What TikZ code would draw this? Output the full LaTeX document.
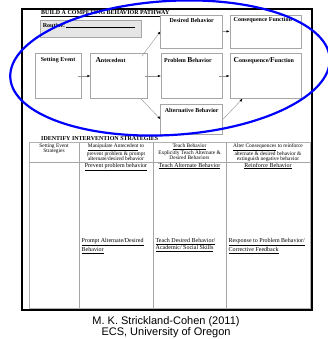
\documentclass[tikz,border=0pt]{standalone}
\usepackage{fontspec}
\setmainfont{Liberation Serif}
\newfontfamily\captionfont{Liberation Sans}
\usetikzlibrary{positioning,calc,arrows.meta}

\tikzset{
	pathbox/.style={draw=gray!70, fill=white, line width=0.6pt, inner sep=0pt},
	boxlabel/.style={font=\fontsize{6}{7}\selectfont\bfseries, inner sep=0pt},
	pathline/.style={draw=gray!85, line width=0.4pt,
		-{Latex[length=3pt,width=2.4pt,color=black]}},
	headtext/.style={font=\fontsize{5.4}{5.2}\selectfont, align=center, inner sep=0pt, anchor=north},
	celltext/.style={font=\fontsize{6}{7}\selectfont, align=left, inner sep=0pt}
}

\begin{document}
\begin{tikzpicture}[x=1pt,y=-1pt]

\useasboundingbox (0,0) rectangle (327,339);

% Frame
\draw[line width=1.2pt] (22,9) rectangle (312,310);

\node[anchor=west, inner sep=0pt, font=\fontsize{6}{7}\selectfont\bfseries] (title_path) at (41,14)
	{\underline{BUILD A COMPETING BEHAVIOR PATHWAY}};

\node[draw=gray!70, fill=gray!20, line width=0.6pt,
	minimum width=101pt,
	minimum height=17pt,
	label={[boxlabel, below right=3pt and 3pt]north west:Routine:\,\rule{69pt}{0.4pt}}
] (routine) at (90.5,28.5) {};

%%%%%%%%%%%%%%%%%%%
% Pathway boxes

\node[pathbox,
	minimum width=46pt,
	minimum height=45pt,
	label={[boxlabel, below=4pt]north:Setting Event}] (setting) at (58,76) {};

\node[pathbox,
	right=9pt of setting,
	minimum width=57pt,
	minimum height=45pt,
	label={[boxlabel, below right=4pt and 5pt]north west:{\fontsize{7.5}{8}\selectfont A}ntecedent}] (ante) {};

\node[pathbox,
	right=13pt of ante,
	minimum width=61pt,
	minimum height=45pt,
	label={[boxlabel, below right=4pt and 3pt]north west:Problem {\fontsize{7.5}{8}\selectfont B}ehavior}] (problem) {};

\node[pathbox,
	right=7pt of problem,
	minimum width=71pt,
	minimum height=45pt,
	label={[boxlabel, below right=4pt and 4pt]north west:{\fontsize{7.5}{8}\selectfont C}onsequence/{\fontsize{7.5}{8}\selectfont F}unction}] (consfun) {};

\node[pathbox,
	above=5pt of problem,
	minimum width=62pt,
	minimum height=33pt,
	label={[boxlabel, below=4pt]north:Desired Behavior}] (desired) {};

\node[pathbox,
	above=5pt of consfun,
	minimum width=71pt,
	minimum height=33pt,
	label={[boxlabel, below right=3pt and 4pt]north west:Consequence Function}] (consdes) {};

\node[pathbox,
	below=5pt of problem,
	minimum width=62pt,
	minimum height=30pt,
	label={[boxlabel, below=4pt]north:Alternative Behavior}] (alt) {};

\draw[pathline, shorten <=-3pt] (setting.east) -- (ante.west);
\draw[pathline] ($(ante.north east)+(-6,3)$) -- (desired.west);
\draw[pathline, shorten <=-3pt] (ante.east) -- (problem.west);
\draw[pathline] ($(ante.south east)+(-7,0)$) -- (alt.west);
\draw[pathline, shorten <=-4pt] (problem.east) -- (consfun.west);
\draw[pathline, shorten <=-1pt] (desired.east) -- (consdes.west);
\draw[pathline] (alt.east) -- ($(consfun.south west)+(13,0)$);

%%%%%%%%%%%%%%%%%%%
% Intervention table

\node[anchor=west, inner sep=0pt, font=\fontsize{6}{7}\selectfont\bfseries] (title_table) at (41,140)
	{\underline{IDENTIFY INTERVENTION STRATEGIES}};

\draw[gray!60, line width=0.9pt] (29,142) rectangle (310,308);
\draw[gray!70, line width=0.5pt] (29,162) -- (310,162);
\foreach \x in {79,153,226}
	\draw[gray!70, line width=0.5pt] (\x,142) -- (\x,308);

\node[headtext] (head_setting) at (54,143.5) {Setting Event\\Strategies};
\node[headtext] (head_ante) at (116,143.5)
	{\underline{Manipulate Antecedent} to\\prevent problem \& prompt\\alternate/desired behavior};
\node[headtext] (head_teach) at (189.5,143.5)
	{\underline{Teach Behavior}\\Explicitly Teach Alternate \&\\Desired Behaviors};
\node[headtext] (head_alter) at (268,143.5)
	{\underline{Alter Consequences} to reinforce\\alternate \& desired behavior \&\\extinguish negative behavior};

\node[celltext, anchor=north] (prevent) at (116,162.8) {\underline{Prevent problem behavior}};
\node[celltext, anchor=north] (teach_alt) at (189.5,162.8) {\underline{Teach Alternate Behavior}};
\node[celltext, anchor=north] (reinforce) at (268,162.8) {\underline{Reinforce Behavior}};

\node[celltext, anchor=north west] (prompt) at (81.5,238.5)
	{\underline{Prompt Alternate/Desired}\\\underline{Behavior}};
\node[celltext, anchor=north west] (teach_des) at (155.5,238.5)
	{\underline{Teach Desired Behavior/}\\\underline{Academic/ Social Skills}};
\node[celltext, anchor=north west] (response) at (228.5,238.5)
	{\underline{Response to Problem Behavior/}\\\underline{Corrective Feedback}};

% Source line
\node[anchor=north, align=center, inner sep=0pt, font=\captionfont\fontsize{11}{11.5}\selectfont] (source) at (166,316)
	{M. K. Strickland-Cohen (2011)\\ECS, University of Oregon};

% Highlight round the pathway
\draw[blue, line width=2.2pt, rotate around={3.5:(170,68)}] (170,68) ellipse [x radius=160, y radius=67];

\end{tikzpicture}
\end{document}
